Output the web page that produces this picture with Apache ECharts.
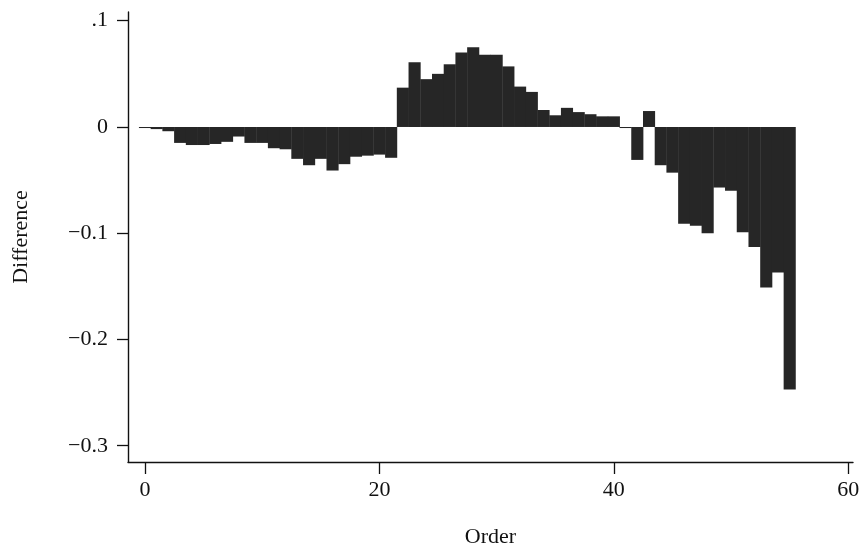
<!DOCTYPE html>
<html>
<head>
<meta charset="utf-8">
<script src="https://cdn.jsdelivr.net/npm/echarts@6/dist/echarts.min.js"></script>
<style>
html,body{margin:0;padding:0;background:#fff;}
#chart{width:863px;height:553px;}
</style>
</head>
<body>
<div id="chart"></div>
<script>
// Data
const orders = [0,1,2,3,4,5,6,7,8,9,10,11,12,13,14,15,16,17,18,19,20,21,22,23,24,25,26,27,28,29,30,31,32,33,34,35,36,37,38,39,40,41,42,43,44,45,46,47,48,49,50,51,52,53,54,55];
const differences = [
  -0.001,-0.002,-0.004,-0.015,-0.017,-0.017,-0.016,-0.014,-0.009,-0.015,
  -0.015,-0.020,-0.021,-0.030,-0.036,-0.030,-0.041,-0.035,-0.028,-0.027,
  -0.026,-0.029, 0.037, 0.061, 0.045, 0.050, 0.059, 0.070, 0.075, 0.068,
   0.068, 0.057, 0.038, 0.033, 0.016, 0.011, 0.018, 0.014, 0.012, 0.010,
   0.010,-0.001,-0.031, 0.015,-0.036,-0.043,-0.091,-0.093,-0.100,-0.057,
  -0.060,-0.099,-0.113,-0.151,-0.137,-0.247
];
const xTickValues = [0, 20, 40, 60];
const yTickValues = [0.1, 0, -0.1, -0.2, -0.3];
const yTickLabels = ['.1', '0', '\u22120.1', '\u22120.2', '\u22120.3'];

const W = 863, H = 553;
const grid = {left: 128, right: 10, top: 12, bottom: 90};
const xMin = -1.45, xMax = 60.4;
const yMin = -0.3153, yMax = 0.1082;
const gridW = W - grid.left - grid.right;
const barW = gridW / (xMax - xMin) + 0.4;

const font = '"Liberation Serif", "DejaVu Serif", serif';
const chart = echarts.init(document.getElementById('chart'), null, {renderer: 'canvas'});
chart.setOption({
  animation: false,
  backgroundColor: '#ffffff',
  grid: grid,
  xAxis: {
    type: 'value', min: xMin, max: xMax,
    name: 'Order', nameLocation: 'middle', nameGap: 64,
    nameTextStyle: {fontFamily: font, fontSize: 22, color: '#111'},
    axisLine: {show: true, onZero: false, lineStyle: {color: '#111', width: 1.4}},
    axisTick: {show: true, length: 12, lineStyle: {color: '#111', width: 1.3}, customValues: xTickValues},
    axisLabel: {fontFamily: font, fontSize: 22, color: '#111', margin: 17, customValues: xTickValues},
    splitLine: {show: false}
  },
  yAxis: {
    type: 'value', min: yMin, max: yMax,
    name: 'Difference', nameLocation: 'middle', nameGap: 96,
    nameTextStyle: {fontFamily: font, fontSize: 22, color: '#111'},
    axisLine: {show: true, onZero: false, lineStyle: {color: '#111', width: 1.4}},
    axisTick: {show: true, length: 11, lineStyle: {color: '#111', width: 1.3}, customValues: yTickValues},
    axisLabel: {
      fontFamily: font, fontSize: 22, color: '#111', margin: 20,
      customValues: yTickValues,
      formatter: function (v) {
        const i = yTickValues.findIndex(t => Math.abs(t - v) < 1e-9);
        return i >= 0 ? yTickLabels[i] : '';
      }
    },
    splitLine: {show: false}
  },
  series: [{
    type: 'bar',
    data: orders.map((o, i) => [o, differences[i]]),
    barWidth: barW,
    itemStyle: {color: '#262626'},
    emphasis: {disabled: true}
  }]
});
</script>
</body>
</html>
